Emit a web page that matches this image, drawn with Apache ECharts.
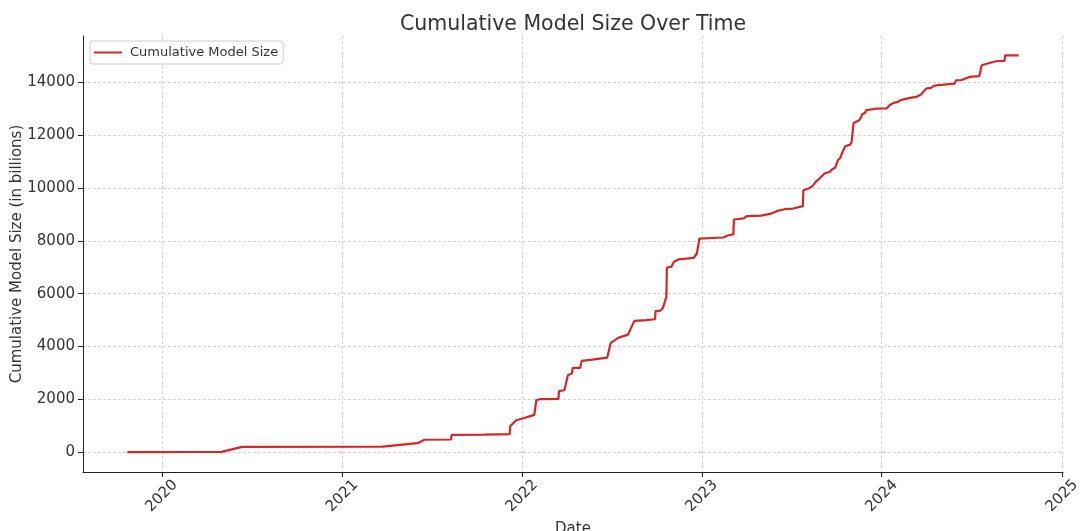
<!DOCTYPE html>
<html>
<head>
<meta charset="utf-8">
<title>Cumulative Model Size Over Time</title>
<script src="https://cdn.jsdelivr.net/npm/echarts@6/dist/echarts.min.js"></script>
<style>
    html, body { margin: 0; padding: 0; background: #fff; }
    #chart { width: 1080px; height: 531px; }
</style>
</head>
<body>
<div id="chart"></div>
<script>
// release dates
var dates = [
    '2019-10-23', '2020-05-01', '2020-06-12', '2021-03-24', '2021-04-13',
    '2021-06-03', '2021-06-17', '2021-08-10', '2021-08-11', '2021-10-17',
    '2021-12-07', '2021-12-08', '2021-12-20', '2022-01-02', '2022-01-26',
    '2022-01-30', '2022-02-06', '2022-03-16', '2022-03-17', '2022-03-28',
    '2022-04-04', '2022-04-12', '2022-04-14', '2022-04-29', '2022-05-02',
    '2022-05-24', '2022-06-23', '2022-06-30', '2022-07-15', '2022-08-04',
    '2022-08-17', '2022-09-10', '2022-09-28', '2022-09-29', '2022-10-09',
    '2022-10-14', '2022-10-21', '2022-10-22', '2022-10-31', '2022-11-05',
    '2022-11-15', '2022-12-15', '2022-12-22', '2022-12-27', '2023-02-13',
    '2023-02-24', '2023-03-06', '2023-03-07', '2023-03-27', '2023-04-02',
    '2023-05-01', '2023-05-22', '2023-06-03', '2023-06-18', '2023-07-05',
    '2023-07-25', '2023-07-26', '2023-08-06', '2023-08-14', '2023-08-20',
    '2023-08-26', '2023-09-07', '2023-09-17', '2023-09-22', '2023-09-29',
    '2023-10-04', '2023-10-09', '2023-10-12', '2023-10-19', '2023-10-29',
    '2023-11-01', '2023-11-05', '2023-11-16', '2023-11-20', '2023-11-22',
    '2023-11-29', '2023-11-30', '2023-12-11', '2023-12-21', '2024-01-11',
    '2024-01-17', '2024-01-25', '2024-02-03', '2024-02-08', '2024-02-16',
    '2024-03-01', '2024-03-11', '2024-03-21', '2024-03-31', '2024-04-10',
    '2024-04-17', '2024-05-01', '2024-05-28', '2024-05-31', '2024-06-10',
    '2024-06-27', '2024-07-17', '2024-07-22', '2024-08-03', '2024-08-20',
    '2024-09-06', '2024-09-08', '2024-10-05'
];
// cumulative size in billions
var sizes = [
    0, 10, 200, 210, 250,
    340, 470, 480, 655, 665,
    680, 985, 1210, 1275, 1410,
    1970, 2005, 2015, 2310, 2345,
    2915, 2980, 3190, 3190, 3455,
    3505, 3580, 4135, 4325, 4450,
    4970, 4995, 5030, 5335, 5360,
    5460, 5880, 6990, 7015, 7200,
    7300, 7350, 7520, 8085, 8125,
    8210, 8240, 8805, 8845, 8930,
    8955, 9030, 9130, 9195, 9220,
    9310, 9915, 9980, 10080, 10230,
    10330, 10545, 10605, 10700, 10775,
    11050, 11140, 11300, 11580, 11640,
    11740, 12460, 12560, 12665, 12780,
    12855, 12940, 12970, 13005, 13010,
    13130, 13220, 13255, 13320, 13360,
    13420, 13445, 13535, 13760, 13785,
    13875, 13900, 13950, 14075, 14075,
    14200, 14230, 14645, 14710, 14795,
    14810, 15020, 15020
];
var yearTicks = ['2020-01-01', '2021-01-01', '2022-01-01', '2023-01-01', '2024-01-01', '2025-01-01'];
var sizeTicks = [0, 2000, 4000, 6000, 8000, 10000, 12000, 14000];

function toTime(d) {
    return new Date(d + 'T00:00:00Z').getTime();
}

var seriesData = dates.map(function (d, i) {
    return [toTime(d), sizes[i]];
});
var yearTickValues = yearTicks.map(toTime);

var chart = echarts.init(document.getElementById('chart'));
var gridLine = { show: true, lineStyle: { color: '#cccccc', type: [3, 2], width: 0.8 } };
var option = {
    animation: false,
    backgroundColor: '#ffffff',
    textStyle: { fontFamily: 'DejaVu Sans' },
    title: {
        text: 'Cumulative Model Size Over Time',
        left: 568,
        textAlign: 'center',
        top: 9,
        textStyle: { fontSize: 20.5, fontWeight: 'normal', color: '#333333', fontFamily: 'DejaVu Sans' }
    },
    legend: {
        left: 90,
        top: 41,
        padding: [5, 5, 5, 4],
        icon: 'rect',
        itemWidth: 28,
        itemHeight: 2,
        borderColor: '#cccccc',
        borderWidth: 1,
        borderRadius: 3,
        backgroundColor: 'rgba(255,255,255,0.8)',
        textStyle: { fontSize: 13, color: '#333333', fontFamily: 'DejaVu Sans', padding: [0, 0, 0, 3] }
    },
    grid: { left: 83, right: 17, top: 36, bottom: 59, containLabel: false, outerBoundsMode: 'none' },
    xAxis: {
        type: 'value',
        min: toTime('2019-07-25'),
        max: toTime('2025-01-03'),
        name: 'Date',
        nameLocation: 'middle',
        nameGap: 45,
        nameTextStyle: { fontSize: 15, color: '#333333' },
        axisLine: { onZero: false, lineStyle: { color: '#222222', width: 1 } },
        axisTick: { show: true, length: 5, inside: false, customValues: yearTickValues, lineStyle: { color: '#222222' } },
        axisLabel: {
            customValues: yearTickValues,
            rotate: 45,
            align: 'center',
            verticalAlign: 'middle',
            margin: 24,
            fontSize: 15,
            color: '#333333',
            formatter: function (v) { return String(new Date(v).getUTCFullYear()); }
        },
        splitLine: gridLine
    },
    yAxis: {
        type: 'value',
        min: -750,
        max: 15750,
        name: 'Cumulative Model Size (in billions)',
        nameLocation: 'middle',
        nameGap: 58,
        nameMoveOverlap: false,
        nameTextStyle: { fontSize: 15, color: '#333333' },
        axisLine: { show: true, onZero: false, lineStyle: { color: '#222222', width: 1 } },
        axisTick: { show: true, length: 5, customValues: sizeTicks, lineStyle: { color: '#222222' } },
        axisLabel: {
            customValues: sizeTicks,
            margin: 8,
            fontSize: 15,
            color: '#333333',
            formatter: function (v) { return String(v); }
        },
        splitLine: gridLine
    },
    series: [{
        name: 'Cumulative Model Size',
        type: 'line',
        data: seriesData,
        symbol: 'none',
        showSymbol: false,
        lineStyle: { color: '#d62728', width: 2.2 },
        itemStyle: { color: '#d62728' }
    }]
};
chart.setOption(option);
</script>
</body>
</html>
